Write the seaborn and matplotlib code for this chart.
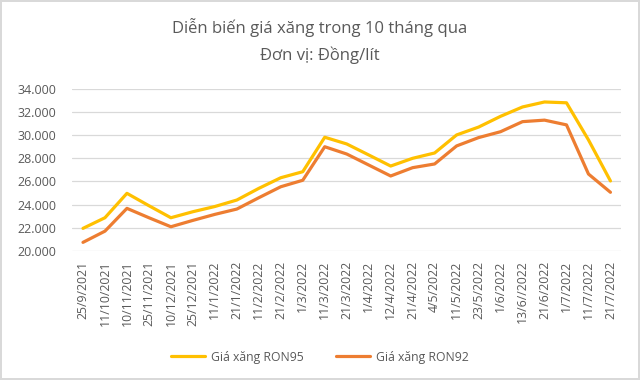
import numpy as np
import pandas as pd
import seaborn as sns
import matplotlib.pyplot as plt
from matplotlib.ticker import FuncFormatter

dates = ['25/9/2021', '11/10/2021', '10/11/2021', '25/11/2021', '10/12/2021',
         '25/12/2021', '11/1/2022', '21/1/2022', '11/2/2022', '21/2/2022',
         '1/3/2022', '11/3/2022', '21/3/2022', '1/4/2022', '12/4/2022',
         '21/4/2022', '4/5/2022', '11/5/2022', '23/5/2022', '1/6/2022',
         '13/6//2022', '21/6/2022', '1/7/2022', '11/7/2022', '21/7/2022']
ron95 = [21940, 22860, 24970, 23900, 22860, 23380, 23830, 24390, 25400, 26320,
         26840, 29820, 29240, 28290, 27330, 28000, 28460, 30020, 30700, 31630,
         32440, 32870, 32800, 29590, 26040]
ron92 = [20730, 21700, 23670, 22860, 22080, 22630, 23150, 23610, 24590, 25540,
         26100, 29000, 28370, 27420, 26470, 27190, 27510, 29070, 29790, 30300,
         31170, 31300, 30890, 26640, 25060]
series = ['Giá xăng RON95', 'Giá xăng RON92']
colors = ['#FFC000', '#ED7D31']

df = pd.DataFrame({'Ngày': dates * 2,
                   'Giá': ron95 + ron92,
                   'Loại': [series[0]] * len(dates) + [series[1]] * len(dates)})

sns.set_style('white')
plt.rcParams['font.family'] = ['Open Sans', 'DejaVu Sans']
txt = '#595959'

fig = plt.figure(figsize=(6.4, 3.8), dpi=100)
fig.patch.set_edgecolor('#D9D9D9')
fig.patch.set_linewidth(1.5)
ax = fig.add_axes([0.1125, 0.340, 0.8585, 0.426])

sns.lineplot(data=df, x='Ngày', y='Giá', hue='Loại', palette=colors, sort=False,
             linewidth=2.3, ax=ax, legend=False)
for ln in ax.lines:
    ln.set_solid_joinstyle('round')

ax.set_ylim(20000, 34000)
ax.set_yticks(np.arange(20000, 34001, 2000))
ax.yaxis.set_major_formatter(FuncFormatter(lambda v, p: f'{v:,.0f}'.replace(',', '.')))
ax.set_xlim(-0.5, len(dates) - 0.5)
ax.set_xticks(range(len(dates)))
ax.set_xticklabels(dates, rotation=90)
ax.tick_params(axis='y', labelsize=9, colors=txt, length=0, pad=11)
ax.tick_params(axis='x', labelsize=8.8, colors=txt, length=0, pad=7)
ax.grid(axis='y', color='#D9D9D9', linewidth=0.9)
ax.set_axisbelow(True)
for s in ax.spines.values():
    s.set_visible(False)
ax.set_xlabel('')
ax.set_ylabel('')

fig.text(0.5, 0.927, 'Diễn biến giá xăng trong 10 tháng qua', ha='center', va='center',
         fontsize=12, color=txt)
fig.text(0.5, 0.855, 'Đơn vị: Đồng/lít', ha='center', va='center', fontsize=12, color=txt)

handles = [plt.Line2D([], [], color=c, linewidth=2.3) for c in colors]
fig.legend(handles, series, loc='center', bbox_to_anchor=(0.5, 0.06), ncol=2, frameon=False,
           fontsize=8.8, labelcolor=txt, handlelength=2.8, columnspacing=2.6, handletextpad=0.5)

fig.savefig('out.png', dpi=100)
